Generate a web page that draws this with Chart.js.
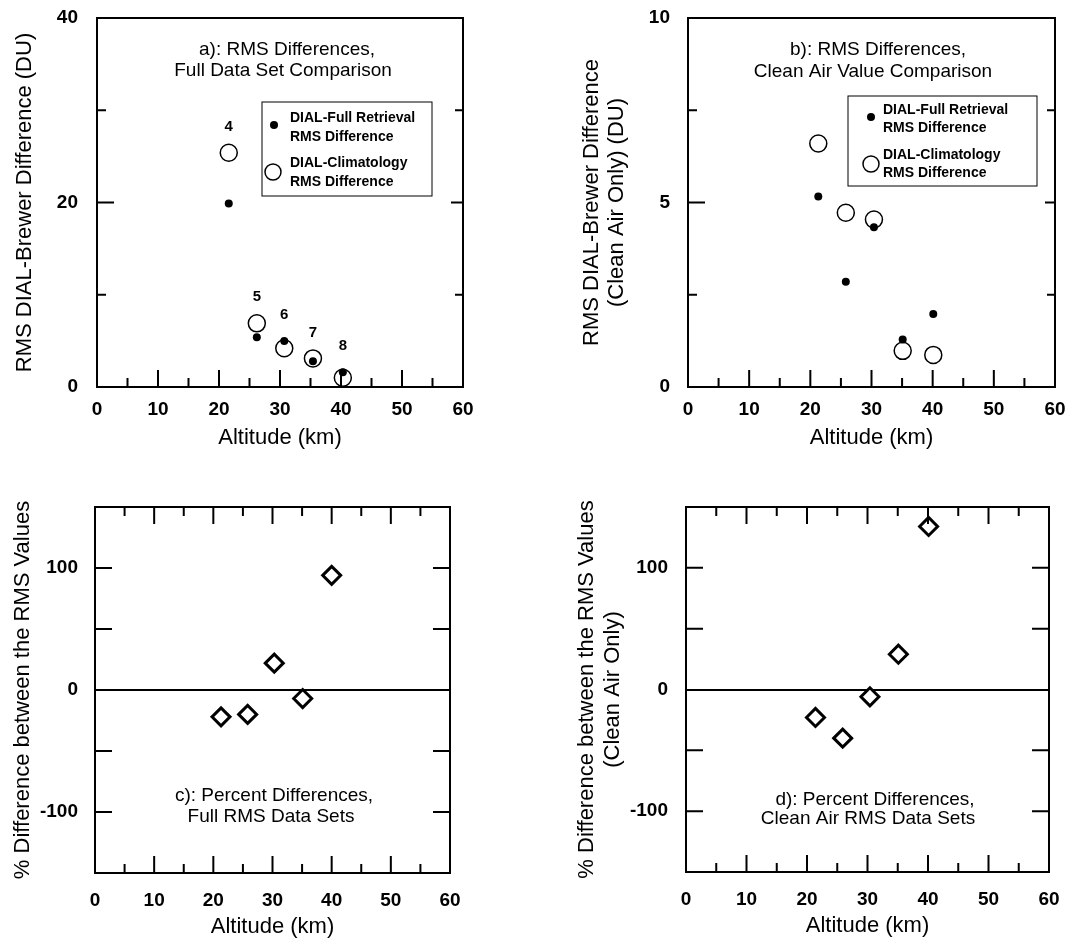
<!DOCTYPE html>
<html>
<head>
<meta charset="utf-8">
<title>DIAL - Brewer RMS differences</title>
<script src="https://cdn.jsdelivr.net/npm/chart.js@4.4.1/dist/chart.umd.min.js"></script>
<style>
  body { margin: 0; width: 1068px; height: 938px; overflow: hidden; background: #fff; position: relative; }
  canvas { position: absolute; }
</style>
</head>
<body>
<canvas id="chartA" width="534" height="469" style="left:0;top:0"></canvas>
<canvas id="chartB" width="534" height="469" style="left:534px;top:0"></canvas>
<canvas id="chartC" width="534" height="490" style="left:0;top:460px"></canvas>
<canvas id="chartD" width="534" height="490" style="left:534px;top:460px"></canvas>
<script>
// ---- data ----
// a) RMS differences, full data set (DU)
const altA = [21.6, 26.2, 30.7, 35.4, 40.3];
const fullA = [19.9, 5.4, 5.0, 2.8, 1.6];
const climA = [25.4, 6.9, 4.2, 3.1, 1.0];
const caseLabels = ['4', '5', '6', '7', '8'];

// b) RMS differences, clean air only (DU)
const altB = [21.3, 25.8, 30.4, 35.1, 40.1];
const fullB = [5.16, 2.85, 4.33, 1.29, 1.98];
const climB = [6.6, 4.72, 4.54, 0.98, 0.87];

// c) percent differences, full sets
const altC = [21.3, 25.8, 30.3, 35.1, 40.0];
const pctC = [-22, -20, 22, -7, 94];

// d) percent differences, clean air sets
const altD = [21.4, 25.9, 30.4, 35.1, 40.1];
const pctD = [-23, -40, -6, 29, 134];

const xTicks = [0, 10, 20, 30, 40, 50, 60];
const pctTickLabels = [-100, 0, 100];

Chart.defaults.font.family = "'Liberation Sans', Arial, sans-serif";
Chart.defaults.color = '#000';

const toXY = (xs, ys) => xs.map((v, i) => ({ x: v, y: ys[i] }));

// frame, inward ticks, text, legend box and case numbers
const framePlugin = {
  id: 'frame',
  afterDraw(chart, args, opts) {
    const { ctx, chartArea: a, scales: { x, y } } = chart;
    ctx.save();
    ctx.strokeStyle = '#000';
    ctx.fillStyle = '#000';
    ctx.lineWidth = 2;
    ctx.strokeRect(a.left, a.top, a.width, a.height);

    const t = opts.ticks || {};
    ctx.beginPath();
    (t.bottom || []).forEach(([vals, len]) => vals.forEach(v => {
      const px = x.getPixelForValue(v);
      ctx.moveTo(px, a.bottom); ctx.lineTo(px, a.bottom - len);
    }));
    (t.top || []).forEach(([vals, len]) => vals.forEach(v => {
      const px = x.getPixelForValue(v);
      ctx.moveTo(px, a.top); ctx.lineTo(px, a.top + len);
    }));
    (t.left || []).forEach(([vals, len]) => vals.forEach(v => {
      const py = y.getPixelForValue(v);
      ctx.moveTo(a.left, py); ctx.lineTo(a.left + len, py);
    }));
    (t.right || []).forEach(([vals, len]) => vals.forEach(v => {
      const py = y.getPixelForValue(v);
      ctx.moveTo(a.right, py); ctx.lineTo(a.right - len, py);
    }));
    ctx.stroke();

    ctx.textAlign = 'center';
    ctx.textBaseline = 'middle';
    (opts.texts || []).forEach(s => {
      ctx.font = s.font;
      ctx.fillText(s.t, a.left + s.dx, a.top + s.dy);
    });

    const lg = opts.legend;
    if (lg) {
      const bx = a.left + lg.dx, by = a.top + lg.dy;
      ctx.lineWidth = 1;
      ctx.strokeRect(bx, by, lg.w, lg.h);
      ctx.beginPath();
      ctx.arc(bx + lg.dot[0], by + lg.dot[1], 4, 0, Math.PI * 2);
      ctx.fill();
      ctx.lineWidth = 1.5;
      ctx.beginPath();
      ctx.arc(bx + lg.ring[0], by + lg.ring[1], 8, 0, Math.PI * 2);
      ctx.stroke();
      ctx.textAlign = 'left';
      ctx.font = "bold 14px 'Liberation Sans', Arial, sans-serif";
      lg.lines.forEach(([txt, dy]) => ctx.fillText(txt, bx + lg.tx, by + dy));
    }

    const nb = opts.numbers;
    if (nb) {
      ctx.textAlign = 'center';
      ctx.font = "bold 15px 'Liberation Sans', Arial, sans-serif";
      nb.labels.forEach((lab, i) => {
        const px = x.getPixelForValue(nb.xs[i]);
        const py = Math.min(...nb.ys.map(arr => y.getPixelForValue(arr[i])));
        ctx.fillText(lab, px, py - nb.off);
      });
    }
    ctx.restore();
  }
};
Chart.register(framePlugin);

const tickFont = { size: 19, weight: 'bold' };
const titleFont = { size: 22 };
const textFont = "19px 'Liberation Sans', Arial, sans-serif";
const xMajor = [10, 20, 30, 40, 50];
const xMinor = [5, 15, 25, 35, 45, 55];

// fixed axis sizes, and no extra room for overhanging end labels
function fitX(height) {
  return s => { s.height = height; s.paddingLeft = 0; s.paddingRight = 0; };
}
function fitY(width) {
  return s => { s.width = width; s.paddingTop = 0; s.paddingBottom = 0; };
}

function xAxis(height, pad) {
  return {
    type: 'linear', min: 0, max: 60,
    afterBuildTicks: s => { s.ticks = xTicks.map(v => ({ value: v })); },
    afterFit: fitX(height),
    grid: { display: false, drawTicks: false },
    border: { display: false },
    ticks: { font: tickFont, padding: pad, maxRotation: 0 },
    title: { display: true, text: 'Altitude (km)', font: titleFont, padding: 0 }
  };
}

// ---- a) ----
new Chart(document.getElementById('chartA'), {
  type: 'scatter',
  data: {
    datasets: [
      { label: 'DIAL-Full Retrieval RMS Difference', data: toXY(altA, fullA),
        pointRadius: 4, pointBackgroundColor: '#000', pointBorderWidth: 0 },
      { label: 'DIAL-Climatology RMS Difference', data: toXY(altA, climA),
        pointRadius: 8.5, pointBackgroundColor: 'rgba(0,0,0,0)', pointBorderColor: '#000', pointBorderWidth: 1.5 }
    ]
  },
  options: {
    responsive: false, animation: false,
    layout: { padding: { left: 0, top: 18, right: 71, bottom: 18 } },
    scales: {
      x: xAxis(64, 11),
      y: {
        type: 'linear', min: 0, max: 40,
        afterBuildTicks: s => { s.ticks = [0, 20, 40].map(v => ({ value: v })); },
        afterFit: fitY(97),
        grid: { display: false, drawTicks: false },
        border: { display: false },
        ticks: { font: tickFont, padding: 19 },
        title: { display: true, text: 'RMS DIAL-Brewer Difference (DU)', font: titleFont, padding: { top: 12 } }
      }
    },
    plugins: {
      legend: { display: false }, tooltip: { enabled: false },
      frame: {
        ticks: {
          bottom: [[xMajor, 17], [xMinor, 9]],
          left: [[[20], 17], [[10, 30], 9]],
          right: [[[20], 12], [[10, 30], 8]]
        },
        texts: [
          { t: 'a): RMS Differences,', dx: 190, dy: 32, font: textFont },
          { t: 'Full Data Set Comparison', dx: 186, dy: 53, font: textFont }
        ],
        legend: {
          dx: 165, dy: 84, w: 170, h: 94, dot: [12, 23], ring: [11, 70], tx: 28,
          lines: [['DIAL-Full Retrieval', 16], ['RMS Difference', 35], ['DIAL-Climatology', 61], ['RMS Difference', 80]]
        },
        numbers: { labels: caseLabels, xs: altA, ys: [fullA, climA], off: 26 }
      }
    }
  }
});

// ---- b) ----
new Chart(document.getElementById('chartB'), {
  type: 'scatter',
  data: {
    datasets: [
      { label: 'DIAL-Full Retrieval RMS Difference', data: toXY(altB, fullB),
        pointRadius: 4, pointBackgroundColor: '#000', pointBorderWidth: 0 },
      { label: 'DIAL-Climatology RMS Difference', data: toXY(altB, climB),
        pointRadius: 8.5, pointBackgroundColor: 'rgba(0,0,0,0)', pointBorderColor: '#000', pointBorderWidth: 1.5 }
    ]
  },
  options: {
    responsive: false, animation: false,
    layout: { padding: { left: 0, top: 18, right: 13, bottom: 18 } },
    scales: {
      x: xAxis(64, 11),
      y: {
        type: 'linear', min: 0, max: 10,
        afterBuildTicks: s => { s.ticks = [0, 5, 10].map(v => ({ value: v })); },
        afterFit: fitY(154),
        grid: { display: false, drawTicks: false },
        border: { display: false },
        ticks: { font: tickFont, padding: 18 },
        title: { display: true, text: ['RMS DIAL-Brewer Difference', '(Clean Air Only) (DU)'],
                 font: { size: 22, lineHeight: 1.14 }, padding: { top: 45 } }
      }
    },
    plugins: {
      legend: { display: false }, tooltip: { enabled: false },
      frame: {
        ticks: {
          bottom: [[xMajor, 17], [xMinor, 9]],
          left: [[[5], 17], [[2.5, 7.5], 9]],
          right: [[[5], 10], [[2.5, 7.5], 8]]
        },
        texts: [
          { t: 'b): RMS Differences,', dx: 190, dy: 32, font: textFont },
          { t: 'Clean Air Value Comparison', dx: 185, dy: 54, font: textFont }
        ],
        legend: {
          dx: 160, dy: 78, w: 189, h: 90, dot: [23, 21], ring: [23, 68], tx: 35,
          lines: [['DIAL-Full Retrieval', 14], ['RMS Difference', 32], ['DIAL-Climatology', 59], ['RMS Difference', 77]]
        }
      }
    }
  }
});

// ---- c) and d) share the same percent axis ----
function pctY(width, pad, title, titleOpts) {
  return {
    type: 'linear', min: -150, max: 150,
    afterBuildTicks: s => { s.ticks = [-150, -100, -50, 0, 50, 100, 150].map(v => ({ value: v })); },
    afterFit: fitY(width),
    grid: {
      drawTicks: false,
      color: c => (c.tick && c.tick.value === 0 ? '#000' : 'rgba(0,0,0,0)'),
      lineWidth: 2
    },
    border: { display: false },
    ticks: { font: tickFont, padding: pad,
             callback: v => (pctTickLabels.includes(v) ? String(v) : '') },
    title: Object.assign({ display: true, text: title }, titleOpts)
  };
}

const pctTicks = {
  bottom: [[xMajor, 17], [xMinor, 9]],
  top: [[xMajor, 17], [xMinor, 9]],
  left: [[[-100, -50, 50, 100], 17]],
  right: [[[-100, -50, 50, 100], 17]]
};

new Chart(document.getElementById('chartC'), {
  type: 'scatter',
  data: {
    datasets: [
      { label: 'Percent difference', data: toXY(altC, pctC), pointStyle: 'rectRot',
        pointRadius: 9, pointBackgroundColor: '#fff', pointBorderColor: '#000', pointBorderWidth: 3 }
    ]
  },
  options: {
    responsive: false, animation: false,
    layout: { padding: { left: 0, top: 47, right: 84, bottom: 10 } },
    scales: {
      x: xAxis(67, 16),
      y: pctY(95, 17, '% Difference between the RMS Values', { font: titleFont, padding: { top: 10 } })
    },
    plugins: {
      legend: { display: false }, tooltip: { enabled: false },
      frame: {
        ticks: pctTicks,
        texts: [
          { t: 'c): Percent Differences,', dx: 179, dy: 289, font: textFont },
          { t: 'Full RMS Data Sets', dx: 176, dy: 310, font: textFont }
        ]
      }
    }
  }
});

new Chart(document.getElementById('chartD'), {
  type: 'scatter',
  data: {
    datasets: [
      { label: 'Percent difference (clean air)', data: toXY(altD, pctD), pointStyle: 'rectRot',
        pointRadius: 9, pointBackgroundColor: '#fff', pointBorderColor: '#000', pointBorderWidth: 3 }
    ]
  },
  options: {
    responsive: false, animation: false,
    layout: { padding: { left: 0, top: 47, right: 19, bottom: 11 } },
    scales: {
      x: xAxis(67, 16),
      y: pctY(152, 18, ['% Difference between the RMS Values', '(Clean Air Only)'],
              { font: { size: 22, lineHeight: 1.18 }, padding: { top: 40 } })
    },
    plugins: {
      legend: { display: false }, tooltip: { enabled: false },
      frame: {
        ticks: pctTicks,
        texts: [
          { t: 'd): Percent Differences,', dx: 189, dy: 293, font: textFont },
          { t: 'Clean Air RMS Data Sets', dx: 182, dy: 312, font: textFont }
        ]
      }
    }
  }
});
</script>
</body>
</html>
